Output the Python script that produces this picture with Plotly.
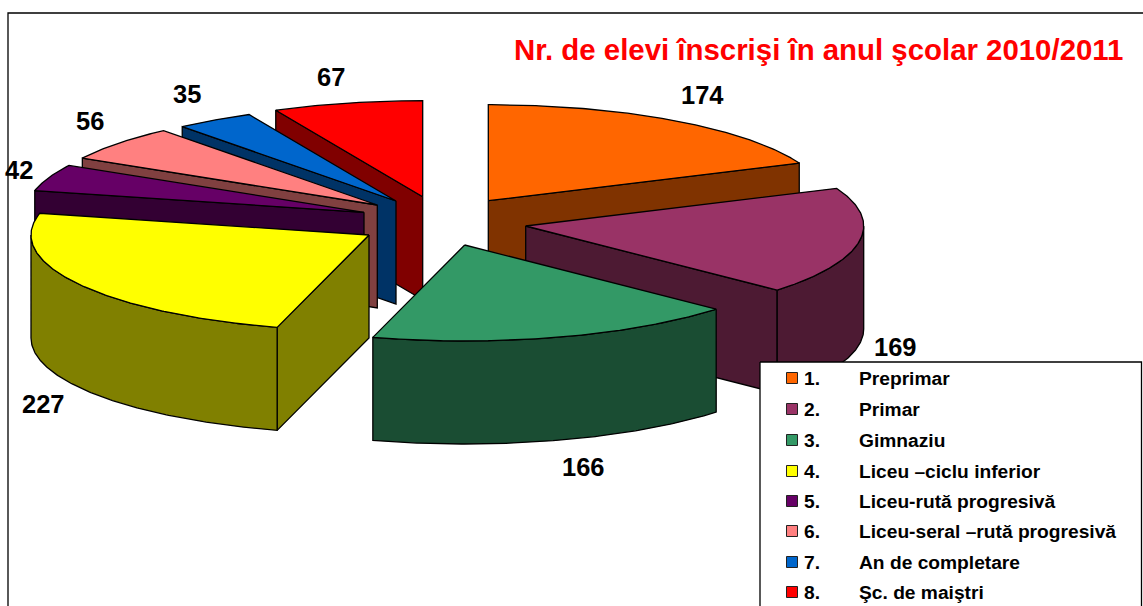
import numpy as np
import plotly.graph_objects as go

# ---- data ----
title = "Nr. de elevi înscrişi în anul şcolar 2010/2011"
numbers = ["1.", "2.", "3.", "4.", "5.", "6.", "7.", "8."]
categories = ["Preprimar", "Primar", "Gimnaziu", "Liceu –ciclu inferior",
              "Liceu-rută progresivă", "Liceu-seral –rută progresivă",
              "An de completare", "Şc. de maiştri"]
values = [174, 169, 166, 227, 42, 56, 35, 67]

# ---- styles ----
top_colors = ["#FF6600", "#993366", "#339966", "#FFFF00", "#660066", "#FF8080", "#0066CC", "#FF0000"]
side_colors = ["#803300", "#4D1A33", "#1A4D33", "#808000", "#330033", "#804040", "#003366", "#800000"]

# ---- layout of the exploded 3-D projection (pixel-like axis units) ----
apex_x = [488.3, 525.7, 464.7, 369.0, 364.0, 377.3, 396.0, 422.7]
apex_y = [200.7, 226.0, 245.0, 235.0, 212.3, 205.0, 201.0, 196.7]
label_x = [702, 895, 583, 43, 19, 90, 187, 331]
label_y = [95, 347, 467, 404, 170, 121, 94, 77]
RX, RY, DEPTH = 338, 96, 103
draw_order = [7, 6, 5, 4, 0, 1, 3, 2]

total = sum(values)
edges = np.concatenate([[0], np.cumsum(values)]) / total * 360.0
W, H = 1143, 606
fig = go.Figure()


def rim(cx, cy, a0, a1, dy=0.0):
    t = np.radians(np.linspace(a0, a1, max(int(abs(a1 - a0)) * 2, 2) + 1))
    return cx + RX * np.sin(t), cy - RY * np.cos(t) + dy


def poly(x, y, fill, width=1.3):
    fig.add_trace(go.Scatter(x=list(x), y=list(y), mode="lines", fill="toself", fillcolor=fill,
                             line=dict(color="black", width=width), hoverinfo="skip", showlegend=False))


for i in draw_order:
    a0, a1 = edges[i], edges[i + 1]
    cx, cy = apex_x[i], apex_y[i]
    # radial faces that look towards the viewer
    for ang, visible in ((a0, 180 < a0 < 360), (a1, 0 < a1 < 180)):
        if visible:
            ex, ey = rim(cx, cy, ang, ang)
            ex, ey = ex[0], ey[0]
            poly([cx, ex, ex, cx, cx], [cy, ey, ey + DEPTH, cy + DEPTH, cy], side_colors[i])
    # outer wall (front half of the ellipse only)
    w0, w1 = max(a0, 90), min(a1, 270)
    if w1 > w0:
        x1, y1 = rim(cx, cy, w0, w1)
        x2, y2 = rim(cx, cy, w0, w1, DEPTH)
        poly(np.r_[x1, x2[::-1], x1[0]], np.r_[y1, y2[::-1], y1[0]], side_colors[i])
    # top face
    x1, y1 = rim(cx, cy, a0, a1)
    poly(np.r_[cx, x1, cx], np.r_[cy, y1, cy], top_colors[i])

# frame
fig.add_trace(go.Scatter(x=[8, 8, W], y=[H, 13, 13], mode="lines", line=dict(color="black", width=1.3),
                         hoverinfo="skip", showlegend=False))
# legend box
poly([760, 1141.5, 1141.5, 760, 760], [362, 362, H + 5, H + 5, 362], "white", 1.3)

rows = [378, 409, 440, 471, 501, 531, 562, 592]
fig.add_trace(go.Scatter(x=[792] * 8, y=rows, mode="markers",
                         marker=dict(symbol="square", size=11, color=top_colors, line=dict(color="#222", width=1)),
                         hoverinfo="skip", showlegend=False))

font = "Liberation Sans"
ann = []
for v, x, y in zip(values, label_x, label_y):
    ann.append(dict(x=x, y=y, text=f"<b>{v}</b>", showarrow=False, xanchor="center", yanchor="middle",
                    font=dict(family=font, size=25.5, color="black")))
for n, c, y in zip(numbers, categories, rows):
    ann.append(dict(x=802, y=y, text=f"<b>{n}</b>", showarrow=False, xanchor="left", yanchor="middle",
                    font=dict(family=font, size=19.2, color="black")))
    ann.append(dict(x=857, y=y, text=f"<b>{c}</b>", showarrow=False, xanchor="left", yanchor="middle",
                    font=dict(family=font, size=19.2, color="black")))
ann.append(dict(x=1125, y=49, text=f"<b>{title}</b>", showarrow=False, xanchor="right", yanchor="middle",
                font=dict(family=font, size=29.4, color="#FF0000")))

fig.update_layout(width=W, height=H, margin=dict(l=0, r=0, t=0, b=0), paper_bgcolor="white",
                  plot_bgcolor="white", showlegend=False, annotations=ann,
                  xaxis=dict(range=[0, W], visible=False, fixedrange=True),
                  yaxis=dict(range=[H, 0], visible=False, fixedrange=True))
fig.write_html("out.html", config=dict(displayModeBar=False),
               post_script="document.body.style.margin='0';document.body.style.overflow='hidden';")
